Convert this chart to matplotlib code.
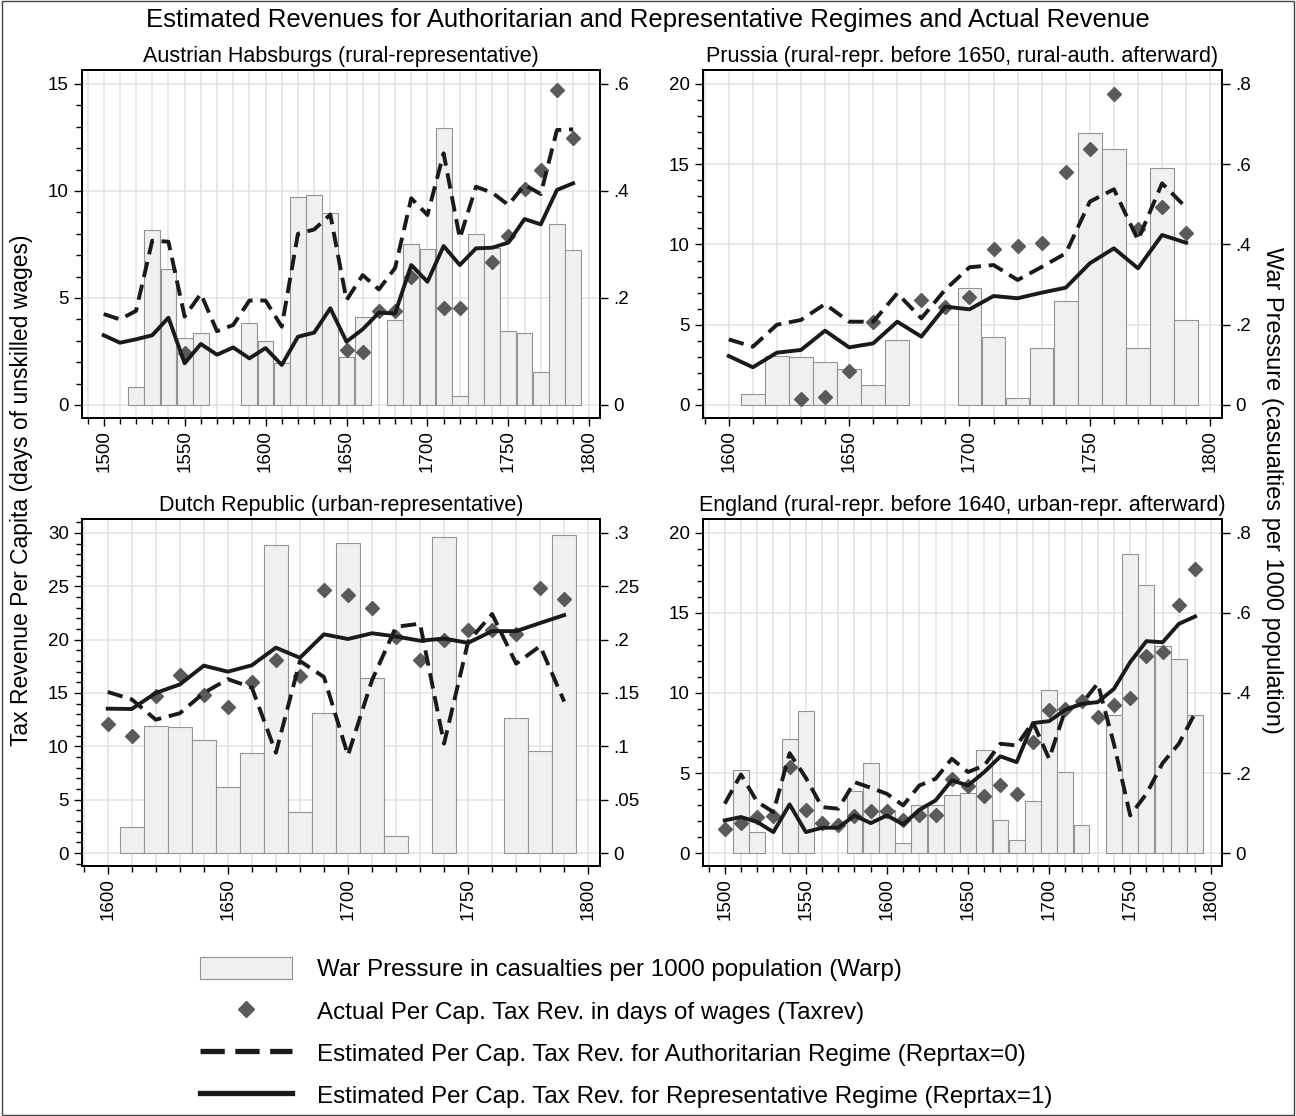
import matplotlib
matplotlib.use('Agg')
from matplotlib import pyplot as plt
from matplotlib.patches import Patch, Rectangle
from matplotlib.lines import Line2D
from matplotlib.ticker import MultipleLocator, FuncFormatter

plt.rcParams['font.family'] = ['Liberation Sans', 'DejaVu Sans']

yrs_long = list(range(1500, 1800, 10))
yrs_short = list(range(1600, 1800, 10))

# Austrian Habsburgs, 1500-1790
aus_warp = [None, None, 0.034, 0.327, 0.254, 0.126, 0.134, None, None, 0.154,
            0.120, 0.078, 0.388, 0.392, 0.358, 0.090, 0.165, None, 0.158, 0.300,
            0.291, 0.517, 0.017, 0.319, 0.293, 0.138, 0.134, 0.061, 0.339, 0.290]
aus_taxrev = [None, None, None, None, None, 2.45, None, None, None, None,
              None, None, None, None, None, 2.57, 2.48, 4.41, 4.41, 6.0,
              None, 4.52, 4.52, None, 6.67, 7.9, 10.1, 11.0, 14.7, 12.46]
aus_auth = [4.25, 4.0, 4.4, 7.68, 7.63, 4.13, 5.2, 3.45, 3.74, 4.88,
            4.88, 3.66, 8.0, 8.2, 8.9, 4.9, 6.07, 5.4, 6.4, 9.66,
            8.88, 11.76, 7.79, 10.2, 9.92, 9.35, 10.28, 9.86, 12.85, 12.88]
aus_repr = [3.26, 2.91, 3.07, 3.26, 4.08, 1.95, 2.85, 2.35, 2.69, 2.18,
            2.66, 1.87, 3.19, 3.38, 4.52, 2.96, 3.54, 4.31, 4.28, 6.54,
            5.76, 7.43, 6.54, 7.32, 7.35, 7.59, 8.69, 8.44, 10.05, 10.36]

# Prussia, 1600-1790
pru_warp = [None, 0.027, 0.122, 0.120, 0.107, 0.089, 0.050, 0.162, None, None,
            0.291, 0.170, 0.017, 0.141, 0.259, 0.679, 0.637, 0.141, 0.590, 0.212]
pru_taxrev = [None, None, None, 0.35, 0.52, 2.14, 5.19, None, 6.54, 6.09,
              6.71, 9.7, 9.91, 10.11, 14.54, 15.93, 19.36, 10.94, 12.36, 10.74]
pru_auth = [4.09, 3.63, 5.0, 5.3, 6.29, 5.19, 5.19, 6.96, 5.4, 7.2,
            8.58, 8.72, 7.79, 8.6, 9.45, 12.67, 13.44, 10.28, 13.81, 12.3]
pru_repr = [3.05, 2.35, 3.26, 3.43, 4.63, 3.59, 3.84, 5.19, 4.26, 6.13,
            5.96, 6.79, 6.65, 7.0, 7.31, 8.83, 9.76, 8.52, 10.59, 10.11]

# Dutch Republic, 1600-1790
dut_warp = [None, 0.0243, 0.119, 0.1185, 0.106, 0.0618, 0.094, 0.2885, 0.0384, 0.131,
            0.291, 0.164, 0.016, None, 0.296, None, None, 0.127, 0.096, 0.298]
dut_taxrev = [12.06, 10.94, 14.7, 16.66, 14.8, 13.7, 16.0, 18.06, 16.56, 24.7,
              24.16, 23.0, 20.25, 18.06, 20.0, 20.9, 20.9, 20.5, 24.8, 23.8]
dut_auth = [15.1, 14.4, 12.5, 13.1, 15.0, 16.3, 15.5, 9.4, 18.0, 16.5,
            9.16, 16.2, 21.2, 21.5, 10.25, 19.8, 22.4, 17.75, 19.4, 14.2]
dut_repr = [13.53, 13.5, 15.0, 15.8, 17.56, 17.0, 17.6, 19.25, 18.3, 20.5,
            20.06, 20.6, 20.3, 19.9, 20.1, 19.7, 20.8, 20.8, 21.56, 22.3]

# England, 1500-1790
eng_warp = [None, 0.208, 0.052, None, 0.285, 0.354, None, None, 0.155, 0.225,
            0.108, 0.025, 0.119, 0.119, 0.144, 0.150, 0.258, 0.083, 0.033, 0.131,
            0.408, 0.202, 0.069, None, 0.344, 0.747, 0.671, 0.518, 0.485, 0.346]
eng_taxrev = [1.52, 1.87, 2.25, 2.29, 5.37, 2.71, 1.87, 1.73, 2.29, 2.62,
              2.62, 2.04, 2.35, 2.35, 4.64, 4.16, 3.54, 4.22, 3.66, 6.93,
              8.95, 9.01, 9.49, 8.53, 9.28, 9.7, 12.34, 12.55, 15.5, 17.75]
eng_auth = [3.08, 4.91, 3.2, 2.56, 6.24, 4.7, 2.87, 2.77, 4.43, 4.08,
            3.7, 2.98, 4.22, 4.64, 5.89, 5.06, 5.47, 6.83, 6.72, 8.18,
            5.89, 8.95, 9.32, 10.6, 6.8, 2.35, 3.7, 5.62, 6.83, 8.74]
eng_repr = [2.04, 2.25, 1.94, 1.31, 3.04, 1.31, 1.58, 1.58, 2.35, 1.87,
            2.35, 1.79, 2.7, 3.29, 4.54, 4.22, 5.06, 6.04, 5.68, 8.12,
            8.24, 8.95, 9.32, 9.43, 10.26, 11.93, 13.24, 13.17, 14.32, 14.78]

legend_labels = ['War Pressure in casualties per 1000 population (Warp)',
                 'Actual Per Cap. Tax Rev. in days of wages (Taxrev)',
                 'Estimated Per Cap. Tax Rev. for Authoritarian Regime (Reprtax=0)',
                 'Estimated Per Cap. Tax Rev. for Representative Regime (Reprtax=1)']

BARFILL, BAREDGE = '#f0f0f0', '#939393'
DIAMOND, LINE, GRID = '#5a5a5a', '#1a1a1a', '#e3e3e3'
W, H = 1296, 1116


def stata_fmt(v, pos):
    s = '%g' % round(v, 4)
    if s.startswith('0.'):
        s = s[1:]
    return s


def panel(fig, px, title, yrs, warp, taxrev, auth, rep, ytop, wtop, wstep, xlo, xhi):
    l, t, r, b = px
    ax = fig.add_axes([l / W, 1 - b / H, (r - l) / W, (b - t) / H])
    axl = ax.twinx()
    ax.yaxis.tick_right()
    axl.yaxis.tick_left()

    bx = [y for y, w in zip(yrs, warp) if w is not None]
    bh = [w for w in warp if w is not None]
    ax.bar(bx, bh, width=9.8, color=BARFILL, edgecolor=BAREDGE, linewidth=0.8)

    tx = [y for y, v in zip(yrs, taxrev) if v is not None]
    tv = [v for v in taxrev if v is not None]
    axl.plot(tx, tv, ls='none', marker='D', ms=7, color=DIAMOND)
    axl.plot(yrs, auth, color=LINE, lw=2.8, dashes=(4, 2))
    axl.plot(yrs, rep, color=LINE, lw=2.8)

    ax.set_xlim(xlo, xhi)
    ax.set_ylim(-0.0405 * wtop, 1.0436 * wtop)
    axl.set_ylim(-0.0405 * ytop, 1.0436 * ytop)

    ax.xaxis.set_major_locator(MultipleLocator(50))
    ax.xaxis.set_minor_locator(MultipleLocator(10))
    ax.yaxis.set_major_locator(MultipleLocator(wstep))
    ax.yaxis.set_major_formatter(FuncFormatter(stata_fmt))
    axl.yaxis.set_major_locator(MultipleLocator(5))
    axl.yaxis.set_minor_locator(MultipleLocator(1))

    ax.set_axisbelow(True)
    ax.grid(True, axis='x', which='both', color=GRID, lw=1.1)
    ax.grid(True, axis='y', which='major', color=GRID, lw=1.1)

    ax.tick_params(axis='x', which='major', length=6, width=1, labelsize=13.5,
                   labelrotation=90, pad=3)
    ax.tick_params(axis='x', which='minor', length=4, width=1)
    ax.tick_params(axis='y', which='major', length=6, width=1, labelsize=13.5,
                   right=True, left=False, labelright=True, labelleft=False)
    axl.tick_params(axis='y', which='major', length=6, width=1, labelsize=13.5)
    axl.tick_params(axis='y', which='minor', length=4, width=1)
    for a in (ax, axl):
        for s in a.spines.values():
            s.set_linewidth(1.3)
            s.set_color('black')

    ax.set_title(title, fontsize=15.5, pad=6)
    return ax


fig = plt.figure(figsize=(W / 100, H / 100), dpi=100)

panel(fig, (82, 70, 600, 418), 'Austrian Habsburgs (rural-representative)',
      yrs_long, aus_warp, aus_taxrev, aus_auth, aus_repr, 15, 0.6, 0.2, 1486.6, 1806.6)
panel(fig, (703, 70, 1222, 418), 'Prussia (rural-repr. before 1650, rural-auth. afterward)',
      yrs_short, pru_warp, pru_taxrev, pru_auth, pru_repr, 20, 0.8, 0.2, 1589.3, 1804.9)
panel(fig, (82, 519, 600, 866), 'Dutch Republic (urban-representative)',
      yrs_short, dut_warp, dut_taxrev, dut_auth, dut_repr, 30, 0.3, 0.05, 1589.3, 1804.9)
panel(fig, (703, 519, 1222, 866), 'England (rural-repr. before 1640, urban-repr. afterward)',
      yrs_long, eng_warp, eng_taxrev, eng_auth, eng_repr, 20, 0.8, 0.2, 1486.6, 1806.6)

fig.text(0.5, 1 - 20 / H, 'Estimated Revenues for Authoritarian and Representative Regimes and Actual Revenue',
         ha='center', va='center', fontsize=18.5)
fig.text(22 / W, 1 - 490 / H, 'Tax Revenue Per Capita (days of unskilled wages)',
         rotation=90, ha='center', va='center', fontsize=16.5)
fig.text(1272 / W, 1 - 490 / H, 'War Pressure (casualties per 1000 population)',
         rotation=-90, ha='center', va='center', fontsize=17)

handles = [Patch(facecolor=BARFILL, edgecolor=BAREDGE, linewidth=0.8),
           Line2D([], [], ls='none', marker='D', ms=8.5, color=DIAMOND),
           Line2D([], [], color=LINE, lw=3.8, dashes=(4.6, 2)),
           Line2D([], [], color=LINE, lw=3.8)]
fig.legend(handles, legend_labels, loc='upper left', bbox_to_anchor=(200 / W, 1 - 957 / H),
           frameon=False, fontsize=17.4, handlelength=3.8, handleheight=1.05,
           handletextpad=1.03, labelspacing=0.73, borderpad=0, borderaxespad=0)

fig.patches.append(Rectangle((0.0012, 0.0012), 0.9976, 0.9976, transform=fig.transFigure,
                             fill=False, edgecolor='#444444', linewidth=1))

fig.savefig('out.png', dpi=100)
